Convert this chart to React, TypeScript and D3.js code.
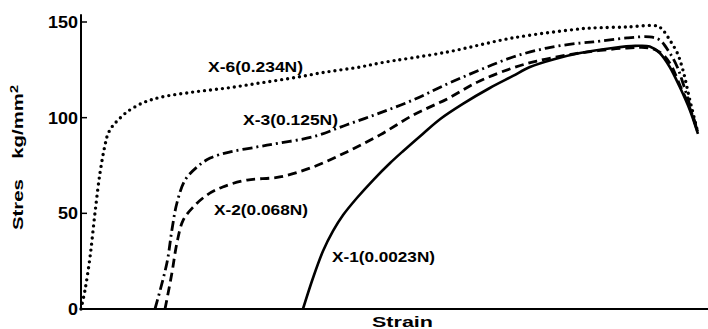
import React from "react";
import * as d3 from "d3";

// strain (arbitrary units 0..100), stress (kg/mm^2)
const x6Strain = [0, 0.64, 1.44, 2.23, 3.03, 3.83, 4.3, 5.0, 5.74, 7.34, 9.9, 12.6, 17.9, 23.3, 28.5, 33.8, 39.2, 44.5, 47.7, 58.4, 68.9, 79.6, 81.7, 87.1, 91.9, 92.8, 93.9, 95.1, 96.0, 97.1, 98.4];
const x6Stress = [0, 9.9, 27.2, 50.2, 71.1, 85.7, 91.5, 95.5, 98.2, 103, 107.8, 110.6, 113.4, 115.5, 118.1, 120.8, 123.9, 126.5, 128.6, 134.3, 141.7, 146.4, 146.9, 147.4, 147.9, 145.8, 140.6, 133.8, 124.9, 109.3, 92];

const x3Strain = [11.8, 13.7, 14.5, 15.3, 16.6, 18.5, 20.6, 23.8, 28.1, 31.7, 37.0, 42.4, 47.7, 53.0, 58.4, 63.6, 68.9, 74.3, 79.6, 81.7, 87.1, 90.7, 92.3, 93.9, 95.1, 96.0, 97.1, 98.4];
const x3Stress = [0, 24, 41.3, 55.4, 67.4, 74.2, 78.9, 82.1, 84.7, 86.8, 90.0, 96.3, 102.5, 109.3, 117.6, 124.9, 131.7, 136.4, 139, 139.6, 141.7, 142.2, 140.6, 133.8, 126.5, 118.1, 106.6, 92];

const x2Strain = [13.4, 14.5, 15.3, 16.3, 17.9, 20.1, 22.6, 26.5, 31.7, 37.0, 42.4, 47.7, 53.0, 58.4, 63.6, 68.9, 72.7, 79.6, 87.1, 90.7, 92.3, 93.9, 95.5, 97.1, 98.4];
const x2Stress = [0, 18.8, 34.5, 46.5, 53.3, 59.6, 63.8, 67.4, 69.0, 74.2, 82.1, 91.0, 101.4, 109.8, 119.2, 126, 129.6, 133.8, 136.4, 136.4, 134.3, 128.6, 117.1, 105.1, 92];

const x1Strain = [35.4, 37.0, 38.6, 40.2, 41.8, 44.0, 46.6, 49.3, 51.4, 54.5, 57.3, 60.9, 65.2, 68.9, 71.6, 75.6, 79.6, 84.8, 88.4, 90.7, 92.3, 93.9, 95.5, 97.1, 98.4];
const x1Stress = [0, 16.2, 30.3, 40.8, 49.1, 58, 67.4, 76.3, 82.6, 91.5, 99.3, 107.2, 115.5, 121.8, 126.5, 130.7, 133.8, 136.4, 137.5, 137.2, 133.8, 126.5, 116, 104, 91.5];

const seriesNames = ["X-6(0.234N)", "X-3(0.125N)", "X-2(0.068N)", "X-1(0.0023N)"];
const yTicks = [0, 50, 100, 150];

const W = 708;
const H = 329;

export default function App() {
  const x = d3.scaleLinear().domain([0, 100]).range([81, 708]);
  const y = d3.scaleLinear().domain([0, 150]).range([309, 22]);
  const line = d3
    .line<[number, number]>()
    .x((d) => x(d[0]))
    .y((d) => y(d[1]))
    .curve(d3.curveCatmullRom.alpha(0.5));
  const zip = (a: number[], b: number[]) => a.map((v, i) => [v, b[i]] as [number, number]);

  const series = [
    { pts: zip(x6Strain, x6Stress), dash: "0 6", width: 3.4, cap: "round" },
    { pts: zip(x3Strain, x3Stress), dash: "10 4 2 4", width: 2.8, cap: "butt" },
    { pts: zip(x2Strain, x2Stress), dash: "9 5", width: 2.8, cap: "butt" },
    { pts: zip(x1Strain, x1Stress), dash: "none", width: 2.6, cap: "butt" },
  ];

  const labels = [
    { name: seriesNames[0], x: 208, y: 72, len: 95 },
    { name: seriesNames[1], x: 243, y: 125, len: 95 },
    { name: seriesNames[2], x: 214, y: 215, len: 94 },
    { name: seriesNames[3], x: 332, y: 262, len: 103 },
  ];

  const font = "'Liberation Sans', Arial, sans-serif";

  return (
    <svg
      width={W}
      height={H}
      style={{ position: "absolute", left: 0, top: 0, background: "#fff" }}
    >
      <rect width={W} height={H} fill="#fff" />
      {/* axes */}
      <line x1={x(0)} x2={x(0)} y1={y(154)} y2={y(0) + 1} stroke="#000" strokeWidth={2} />
      <line x1={x(0) - 1} x2={W} y1={y(0)} y2={y(0)} stroke="#000" strokeWidth={2} />
      {yTicks.map((t) => (
        <g key={t}>
          {t > 0 && (
            <line x1={x(0)} x2={x(0) + 6} y1={y(t)} y2={y(t)} stroke="#000" strokeWidth={1.5} />
          )}
          <text
            x={x(0) - 3}
            y={y(t) + 6}
            textAnchor="end"
            fontFamily={font}
            fontWeight="bold"
            fontSize={17}
            textLength={String(t).length * 10}
            lengthAdjust="spacingAndGlyphs"
          >
            {t}
          </text>
        </g>
      ))}
      {/* curves */}
      {series.map((s, i) => (
        <path
          key={i}
          d={line(s.pts) || ""}
          fill="none"
          stroke="#000"
          strokeWidth={s.width}
          strokeDasharray={s.dash}
          strokeLinecap={s.cap as any}
        />
      ))}
      {labels.map((l) => (
        <text
          key={l.name}
          x={l.x}
          y={l.y}
          fontFamily={font}
          fontWeight="bold"
          fontSize={15}
          textLength={l.len}
          lengthAdjust="spacingAndGlyphs"
        >
          {l.name}
        </text>
      ))}
      {/* axis titles */}
      <text
        x={372}
        y={327}
        fontFamily={font}
        fontWeight="bold"
        fontSize={14}
        textLength={61}
        lengthAdjust="spacingAndGlyphs"
      >
        Strain
      </text>
      <text
        transform="translate(23,230) rotate(-90)"
        fontFamily={font}
        fontWeight="bold"
        fontSize={14}
        textLength={145}
        lengthAdjust="spacingAndGlyphs"
      >
        <tspan>Stres</tspan>
        <tspan dx={14}>kg/mm</tspan>
        <tspan dy={-5} fontSize={10}>2</tspan>
      </text>
    </svg>
  );
}
